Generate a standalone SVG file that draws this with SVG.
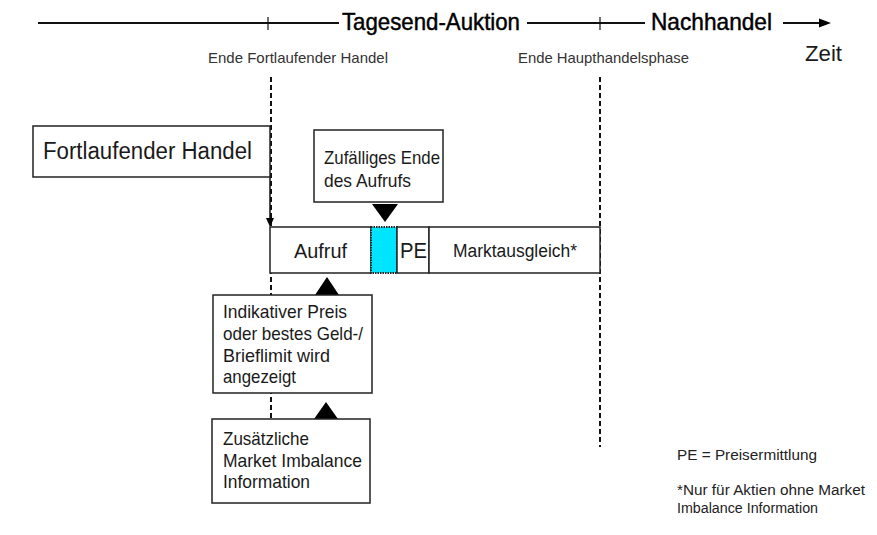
<svg xmlns="http://www.w3.org/2000/svg" width="877" height="535" viewBox="0 0 877 535">
<style>
text{font-family:"Liberation Sans",Arial,sans-serif;fill:#1a1a1a}
.box{fill:#fff;stroke:#222;stroke-width:1.5}
.dash{stroke:#111;stroke-width:2;stroke-dasharray:5 3;fill:none}
.line{stroke:#111;stroke-width:2;fill:none}
.tri{fill:#000}
.small{fill:#333;font-size:15px}
.t17{font-size:18.5px}
.leg{font-size:14px;fill:#222}
.head{fill:#000;stroke:#000;stroke-width:0.45}
</style>
<g id="timeline">
<line class="line" x1="38" y1="23" x2="339" y2="23"/>
<line x1="268" y1="17" x2="268" y2="30" stroke="#111" stroke-width="1.2"/>
<text class="head" x="342" y="30" font-size="24" textLength="178" lengthAdjust="spacingAndGlyphs">Tagesend-Auktion</text>
<line class="line" x1="527" y1="23" x2="645" y2="23"/>
<line x1="600" y1="17" x2="600" y2="30" stroke="#111" stroke-width="1.2"/>
<text class="head" x="651" y="30" font-size="24" textLength="121" lengthAdjust="spacingAndGlyphs">Nachhandel</text>
<line class="line" x1="783" y1="23" x2="822" y2="23"/>
<polygon points="819,18.5 831,23 819,27.5" fill="#000"/>
<text x="805" y="61" font-size="22" textLength="37" lengthAdjust="spacingAndGlyphs">Zeit</text>
<text class="small" x="208" y="63" textLength="180" lengthAdjust="spacingAndGlyphs">Ende Fortlaufender Handel</text>
<text class="small" x="518" y="63" textLength="171" lengthAdjust="spacingAndGlyphs">Ende Haupthandelsphase</text>
</g>
<g id="connectors">
<line class="dash" x1="271" y1="77" x2="271" y2="419"/>
<line class="dash" x1="600" y1="77" x2="600" y2="447"/>
<line x1="270" y1="177" x2="270" y2="218" stroke="#111" stroke-width="1.5"/>
<polygon points="266,218 274,218 270,227" fill="#000"/>
<polygon class="tri" points="372,204 398,204 385,222"/>
<polygon class="tri" points="315,295 339,295 327,277"/>
<polygon class="tri" points="314,419 338,419 326,402"/>
</g>
<g id="fortlaufender">
<rect class="box" x="33" y="126" width="237" height="51"/>
<text x="43" y="159" font-size="23" textLength="209" lengthAdjust="spacingAndGlyphs">Fortlaufender Handel</text>
</g>
<g id="zufaelliges">
<rect class="box" x="314" y="130" width="129" height="72"/>
<text class="t17" x="324" y="164" textLength="116" lengthAdjust="spacingAndGlyphs">Zufälliges Ende</text>
<text class="t17" x="324" y="187" textLength="87" lengthAdjust="spacingAndGlyphs">des Aufrufs</text>
</g>
<g id="bar">
<rect class="box" x="270" y="227" width="101" height="46"/>
<text x="294" y="258" font-size="21" textLength="53" lengthAdjust="spacingAndGlyphs">Aufruf</text>
<rect x="371" y="227" width="26" height="46" fill="#00e5ff" stroke="#222" stroke-width="1.8" stroke-dasharray="1.5 1"/>
<rect class="box" x="397" y="227" width="32" height="46"/>
<text x="400" y="258" font-size="22" textLength="27" lengthAdjust="spacingAndGlyphs">PE</text>
<rect class="box" x="429" y="227" width="171" height="46"/>
<text x="453" y="257" font-size="18" textLength="124" lengthAdjust="spacingAndGlyphs">Marktausgleich*</text>
</g>
<g id="indikativer">
<rect class="box" x="213" y="295" width="159" height="98"/>
<text class="t17" x="223" y="318" textLength="124" lengthAdjust="spacingAndGlyphs">Indikativer Preis</text>
<text class="t17" x="223" y="340" textLength="140" lengthAdjust="spacingAndGlyphs">oder bestes Geld-/</text>
<text class="t17" x="223" y="362" textLength="107" lengthAdjust="spacingAndGlyphs">Brieflimit wird</text>
<text class="t17" x="223" y="383" textLength="73" lengthAdjust="spacingAndGlyphs">angezeigt</text>
</g>
<g id="zusaetzliche">
<rect class="box" x="212" y="419" width="158" height="84"/>
<text class="t17" x="223" y="445" textLength="86" lengthAdjust="spacingAndGlyphs">Zusätzliche</text>
<text class="t17" x="223" y="467" textLength="139" lengthAdjust="spacingAndGlyphs">Market Imbalance</text>
<text class="t17" x="223" y="488" textLength="87" lengthAdjust="spacingAndGlyphs">Information</text>
</g>
<g id="legend">
<text class="leg" x="677" y="460" textLength="140" lengthAdjust="spacingAndGlyphs">PE = Preisermittlung</text>
<text class="leg" x="677" y="495" textLength="188" lengthAdjust="spacingAndGlyphs">*Nur für Aktien ohne Market</text>
<text class="leg" x="677" y="513" textLength="141" lengthAdjust="spacingAndGlyphs">Imbalance Information</text>
</g>
</svg>
